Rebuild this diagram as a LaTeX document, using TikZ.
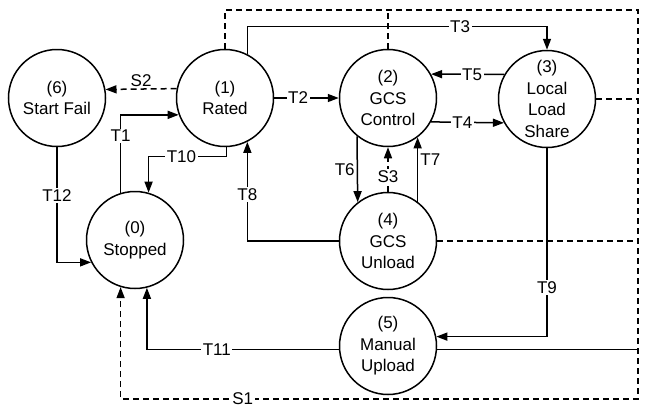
\documentclass[tikz,border=0pt]{standalone}
\usepackage{fontspec}
\setmainfont{Liberation Sans}
\usetikzlibrary{arrows.meta}
\begin{document}
\begin{tikzpicture}[x=1pt,y=-1pt,line width=1.5pt,
  state/.style={circle,draw,minimum size=97pt,inner sep=0pt,align=center,font=\fontsize{17}{21.5}\selectfont},
  lbl/.style={fill=white,inner sep=1.5pt,font=\fontsize{17}{20}\selectfont},
  plain/.style={inner sep=2pt,font=\fontsize{17}{20}\selectfont},
  arr/.style={-{Triangle[length=11pt,width=8pt]}},
  dsh/.style={dash pattern=on 6pt off 4pt}]
\useasboundingbox (0,0) rectangle (645,408);
% states
\node[state] (n6) at (57,98) {(6)\\Start Fail};
\node[state] (n1) at (225,98) {(1)\\Rated};
\node[state] (n2) at (388,98) {(2)\\GCS\\Control};
\node[state] (n3) at (547,99) {(3)\\Local\\Load\\Share};
\node[state] (n0) at (135,240) {(0)\\Stopped};
\node[state] (n4) at (388,241) {(4)\\GCS\\Unload};
\node[state] (n5) at (388,346) {(5)\\Manual\\Upload};
\coordinate (tr) at (638,10);
\coordinate (br) at (638,399);
% dashed S1 bus
\draw[dsh] (n2.north) -- (n2.north |- tr);
\draw[dsh] (n3.east) -- (n3.east -| tr);
\draw[dsh] (n4.east) -- (n4.east -| tr);
\draw (n5.-4.7) -- (n5.-4.7 -| tr);
\draw[dsh,arr] (n1.north) |- (tr) -- (br) -| (n0.253.2) node[lbl,pos=0.382] {S1};
% transitions
\draw[dsh,arr] (n1.169.3) -- node[plain,above] {S2} (n6.10.7);
\draw[arr] (n0.107) |- node[lbl,pos=0.365] {T1} (n1.200.5);
\draw[arr] (n1.272) -- ++(0,9.5) -| node[lbl,pos=0.29] {T10} (n0.74.5);
\draw[arr] (n4.west) -| node[lbl,pos=0.733] {T8} (n1.297);
\draw[arr] (n1.east) -- node[lbl,pos=0.37] {T2} (n2.west);
\draw[arr] (n1.63) -- ++(0,-27.8) -| node[lbl,pos=0.355] {T3} (n3.north);
\draw[arr] (n3.150.3) -- node[lbl,pos=0.44] {T5} (n2.29.7);
\draw[arr] (n2.-29.7) -- node[lbl,pos=0.43] {T4} (n3.209.7);
\draw[arr] (n2.231.8) -- node[plain,left,pos=0.5] {T6} (n4.128.2);
\draw[dsh,arr] (n4.north) -- node[lbl,pos=0.34] {S3} (n2.south);
\draw[arr] (n4.53.3) -- node[plain,right,pos=0.66] {T7} (n2.-53.3);
\draw[arr] (n3.south) |- node[lbl,pos=0.37] {T9} (n5.11.9);
\draw[arr] (n5.184.7) -| node[lbl,pos=0.318] {T11} (n0.284.3);
\draw[arr] (n6.south) |- node[lbl,pos=0.21] {T12} (n0.207);
\end{tikzpicture}
\end{document}
